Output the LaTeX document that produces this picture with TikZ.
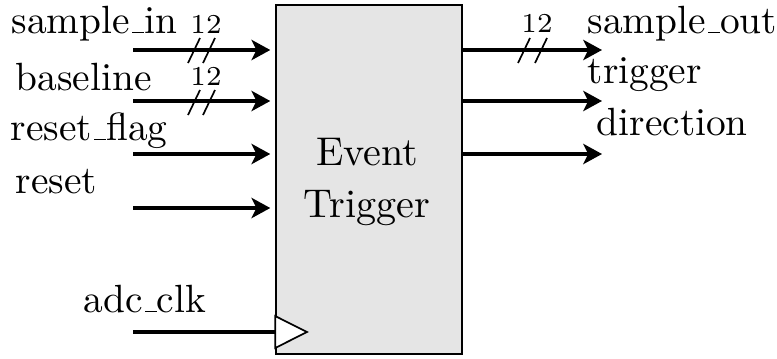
\documentclass[tikz,border=0pt]{standalone}
\usetikzlibrary{arrows.meta,calc}
% classic short low-line underscore
\newcommand\sigus{\leavevmode\kern.06em\vbox{\hrule width.3em}}
\begin{document}
\begin{tikzpicture}[x=0.26667pt, y=-0.26667pt,
  sig/.style={line width=1.1pt, -{Stealth[length=5pt, width=5.4pt, inset=1.3pt]}},
  clk/.style={line width=1.1pt},
  busmark/.style={line width=0.45pt},
  lbl/.style={inner sep=0pt, anchor=base west, font=\fontsize{10.5}{12.5}\selectfont},
  width/.style={inner sep=0pt, anchor=base, font=\fontsize{7.3}{8}\selectfont},
  block/.style={draw, line width=0.45pt, fill=gray!20, inner sep=0pt,
    minimum width=186*0.26667pt, minimum height=349*0.26667pt}]
\useasboundingbox (0,0) rectangle (777,358);

% the block
\node[block] (blk) at (369,179.5) {};
\node[inner sep=0pt, anchor=base, font=\fontsize{10.7}{13}\selectfont] (t1) at (367,165) {Event};
\node[inner sep=0pt, anchor=base, font=\fontsize{10.7}{13}\selectfont] (t2) at (367,217) {Trigger};

% input ports
\coordinate (i1) at (133,50);
\coordinate (i2) at (133,101);
\coordinate (i3) at (133,154);
\coordinate (i4) at (133,208);
\coordinate (ck) at (133,332);
\foreach \p in {i1,i2,i3,i4}
  \draw[sig, shorten >=1.3pt] (\p) -- (\p -| blk.west);
\draw[clk] (ck) -- (ck -| blk.west);

% clock marker
\coordinate (ckt) at (307,332);
\draw[line width=0.45pt, fill=white] ($(ckt -| blk.west)+(0,-16)$) -- (ckt)
  -- ($(ckt -| blk.west)+(0,16)$) -- cycle;

% output ports
\coordinate (o1) at (602,50);
\coordinate (o2) at (602,101);
\coordinate (o3) at (602,154);
\foreach \p in {o1,o2,o3}
  \draw[sig] (\p -| blk.east) -- (\p);

% bus width marks
\draw[busmark] (188,63) -- (200,38) (203,63) -- (215,38);
\draw[busmark] (188,115) -- (200,90) (203,115) -- (215,90);
\draw[busmark] (518,63) -- (530,38) (535,63) -- (547,38);
\node[width] (w1) at (206,33) {12};
\node[width] (w2) at (206,85) {12};
\node[width] (w3) at (537,32) {12};

% signal names
\node[lbl] (l1) at (11,33) {sample\sigus in};
\node[lbl] (l2) at (15,90) {baseline};
\node[lbl] (l3) at (10,140) {reset\sigus flag};
\node[lbl] (l4) at (15,193) {reset};
\node[lbl] (l5) at (83,312) {adc\sigus clk};
\node[lbl] (r1) at (587,33) {sample\sigus out};
\node[lbl] (r2) at (587,83) {trigger};
\node[lbl] (r3) at (596,135) {direction};
\end{tikzpicture}
\end{document}
